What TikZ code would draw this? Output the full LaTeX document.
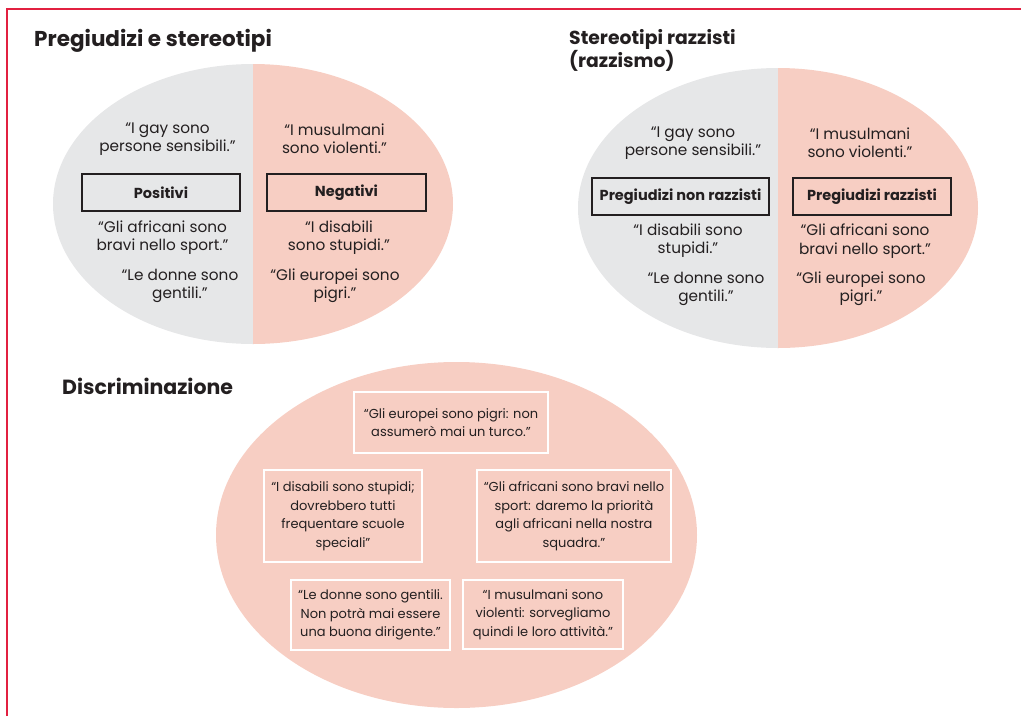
\documentclass[tikz,border=0pt]{standalone}
\usepackage{fontspec}
\setmainfont{Poppins}
\definecolor{pgray}{RGB}{230,231,232}
\definecolor{ppink}{RGB}{247,206,195}
\definecolor{pred}{RGB}{226,32,64}
\definecolor{ink}{RGB}{35,31,32}
\tikzset{
  txt/.style={font=\fontsize{15.3}{18.3}\selectfont, align=center, inner sep=0pt, text=ink},
  stxt/.style={font=\fontsize{13}{18.5}\selectfont, align=center, inner sep=0pt, text=ink},
  ttl/.style={align=left, inner sep=0pt, text=ink},
  blackbox/.style={draw=ink, line width=1.6pt, inner sep=0pt, font=\fontsize{14.5}{16}\selectfont\bfseries, text=ink, minimum height=37pt},
  whitebox/.style={draw=white, line width=1.5pt, stxt},
  redline/.style={draw=pred, line width=2.6pt}
}
\begin{document}
\begin{tikzpicture}[x=1pt,y=-1pt]
\useasboundingbox (0,0) rectangle (1021,716);
% frame
\coordinate (fl) at (7,716);
\coordinate (fc) at (7,9);
\coordinate (fr) at (1021,9);
\draw[redline] (fl) -- (fc) -- (fr);

% ellipse 1
\begin{scope}
  \clip (253,204) ellipse [x radius=200, y radius=140];
  \fill[pgray] (50,60) rectangle (253,350);
  \fill[ppink] (253,60) rectangle (460,350);
\end{scope}
% ellipse 2
\begin{scope}
  \clip (778,208) ellipse [x radius=200, y radius=140];
  \fill[pgray] (570,60) rectangle (778,355);
  \fill[ppink] (778,60) rectangle (985,355);
\end{scope}
% ellipse 3
\fill[ppink] (456.5,535) ellipse [x radius=240.5, y radius=173];

% titles
\node[ttl, anchor=north west, font=\fontsize{21.5}{21}\selectfont\bfseries] (t1) at (34,29) {Pregiudizi e stereotipi};
\node[ttl, anchor=north west, font=\fontsize{18.8}{21}\selectfont\bfseries] (t2) at (569,29) {Stereotipi razzisti\\(razzismo)};
\node[ttl, anchor=west, font=\fontsize{20.5}{21}\selectfont\bfseries] (t3) at (62,386) {Discriminazione};

% ellipse 1 content
\node[txt] (a1) at (167.5,139) {“I gay sono\\persone sensibili.”};
\node[txt] (a2) at (334.5,139) {“I musulmani\\sono violenti.”};
\node[blackbox, minimum width=158pt] (pos) at (161,192.5) {Positivi};
\node[blackbox, minimum width=159pt] (neg) at (346.5,192.5) {Negativi};
\node[txt] (a3) at (162.5,237.5) {“Gli africani sono\\bravi nello sport.”};
\node[txt] (a4) at (339,237.5) {“I disabili\\sono stupidi.”};
\node[txt] (a5) at (180,286) {“Le donne sono\\gentili.”};
\node[txt] (a6) at (335,286) {“Gli europei sono\\pigri.”};

% ellipse 2 content
\node[txt] (b1) at (693,143) {“I gay sono\\persone sensibili.”};
\node[txt] (b2) at (860,143) {“I musulmani\\sono violenti.”};
\node[blackbox, minimum width=177pt] (nonr) at (680.5,196.5) {Pregiudizi non razzisti};
\node[blackbox, minimum width=158pt] (razz) at (872,196.5) {Pregiudizi razzisti};
\node[txt] (b3) at (688,241) {“I disabili sono\\stupidi.”};
\node[txt] (b4) at (865,241) {“Gli africani sono\\bravi nello sport.”};
\node[txt] (b5) at (706,289) {“Le donne sono\\gentili.”};
\node[txt] (b6) at (861,289) {“Gli europei sono\\pigri.”};

% ellipse 3 content
\node[whitebox, minimum width=194pt, minimum height=61pt] (c1) at (451,422.5) {“Gli europei sono pigri: non\\assumerò mai un turco.”};
\node[whitebox, minimum width=158pt, minimum height=92pt] (c2) at (343,516) {“I disabili sono stupidi;\\dovrebbero tutti\\frequentare scuole\\speciali”};
\node[whitebox, minimum width=194pt, minimum height=92pt] (c3) at (574,516) {“Gli africani sono bravi nello\\sport: daremo la priorità\\agli africani nella nostra\\squadra.”};
\node[whitebox, minimum width=159pt, minimum height=70pt] (c4) at (370.5,615) {“Le donne sono gentili.\\Non potrà mai essere\\una buona dirigente.”};
\node[whitebox, minimum width=160pt, minimum height=69pt] (c5) at (543,614.5) {“I musulmani sono\\violenti: sorvegliamo\\quindi le loro attività.”};
\end{tikzpicture}
\end{document}
